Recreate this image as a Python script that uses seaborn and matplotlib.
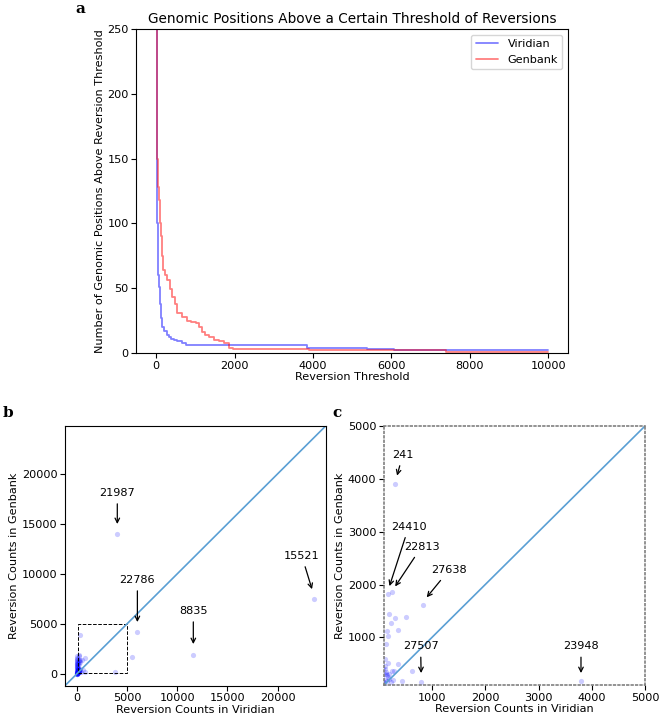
import numpy as np
import pandas as pd
import seaborn as sns
import matplotlib.pyplot as plt
from matplotlib.patches import Rectangle

# panel a: number of positions above each reversion threshold (step curves)
viridian_thresh = [0, 10, 20, 35, 50, 75, 100, 130, 160, 200, 280, 330, 380, 460, 540, 650, 760,
                   3850, 5380, 6060, 10000]
viridian_count = [1000, 150, 120, 100, 60, 51, 38, 27, 20, 17, 14, 12, 11, 10, 9, 8, 6,
                  4, 3, 2, 2]

genbank_thresh = [0, 10, 20, 40, 60, 80, 100, 120, 150, 180, 220, 280, 350, 410, 470, 540, 650,
                  790, 900, 1020, 1100, 1170, 1250, 1350, 1480, 1600, 1730, 1860, 1950, 3900,
                  7400, 10000]
genbank_count = [1200, 250, 150, 140, 128, 118, 100, 90, 75, 64, 60, 56, 49, 43, 38, 31, 28,
                 25, 24, 23, 20, 16, 14, 12, 10, 9, 8, 4, 3, 2,
                 1, 1]

# panels b/c: reversion counts per genomic position
pos_viridian = [4030, 6030, 11600, 23600, 312, 167, 248, 835, 3797, 797, 5457,
                186, 236, 305, 521, 356, 161, 174, 134, 167, 356, 248, 280, 627, 445,
                110, 115, 120, 130, 140, 160, 180, 200, 120, 105, 150, 230, 260, 190,
                10, 20, 30, 40, 50, 60, 70, 80, 90, 15, 25, 35, 45, 55, 65, 75, 85, 95,
                5, 12, 22, 33, 44, 8, 18, 28, 38, 48, 3, 6, 9, 2, 4, 1, 0, 0, 0]
pos_genbank = [14000, 4170, 1930, 7470, 3906, 1824, 1862, 1610, 176, 164, 1723,
               1434, 1277, 1372, 1383, 1138, 1119, 1025, 868, 509, 497, 364, 364, 364, 176,
               600, 450, 400, 350, 300, 280, 250, 220, 200, 150, 180, 150, 200, 300,
               1800, 1500, 1200, 900, 700, 1100, 500, 400, 300, 1300, 1000, 800, 600, 250,
               200, 150, 120, 100, 1600, 1400, 950, 650, 450, 350, 250, 180, 130, 90,
               60, 40, 30, 20, 10, 5, 0, 50, 80]

labels_b = ["21987", "22786", "8835", "15521"]
labels_c = ["241", "24410", "22813", "27638", "27507", "23948"]

df_a = pd.concat([
    pd.DataFrame({"threshold": viridian_thresh, "count": viridian_count, "source": "Viridian"}),
    pd.DataFrame({"threshold": genbank_thresh, "count": genbank_count, "source": "Genbank"}),
])
df_pos = pd.DataFrame({"viridian": pos_viridian, "genbank": pos_genbank})

sns.set_theme(style="ticks", rc={"axes.edgecolor": "black", "xtick.color": "black",
                                 "ytick.color": "black", "axes.labelcolor": "black",
                                 "text.color": "black", "axes.linewidth": 0.8,
                                 "xtick.major.width": 0.8, "ytick.major.width": 0.8,
                                 "xtick.major.size": 3.5, "ytick.major.size": 3.5})
plt.rcParams["font.family"] = ["DejaVu Sans"]
fs = 8.15

fig = plt.figure(figsize=(6.61, 7.21), dpi=100)
ax_a = fig.add_axes([0.2065, 0.5104, 0.6528, 0.4494])
ax_b = fig.add_axes([0.0983, 0.049, 0.3944, 0.3602])
ax_c = fig.add_axes([0.581, 0.05, 0.3949, 0.3592])

# ---- a
sns.lineplot(data=df_a, x="threshold", y="count", hue="source", estimator=None,
             palette={"Viridian": "blue", "Genbank": "red"}, alpha=0.5, linewidth=1.3,
             drawstyle="steps-post", ax=ax_a)
ax_a.set_ylim(0, 250)
ax_a.set_title("Genomic Positions Above a Certain Threshold of Reversions", fontsize=fs * 1.2, pad=4)
ax_a.set_xlabel("Reversion Threshold", fontsize=fs, labelpad=1)
ax_a.set_ylabel("Number of Genomic Positions Above Reversion Threshold", fontsize=fs, labelpad=2)
ax_a.tick_params(labelsize=fs, pad=2)
ax_a.legend(loc="upper right", fontsize=fs, title=None)

# ---- b
lim_max = max(max(pos_viridian), max(pos_genbank))
lo, hi = -0.05 * lim_max, 1.05 * lim_max
sns.scatterplot(data=df_pos, x="viridian", y="genbank", color="blue", alpha=0.2, s=14,
                linewidth=0, ax=ax_b)
ax_b.axline((0, 0), slope=1, color="#5a9fd4", linewidth=1.2)
ax_b.add_patch(Rectangle((100, 100), 4900, 4900, fill=False, linestyle="--",
                         edgecolor="black", linewidth=0.7))
ax_b.set_xlim(lo, hi)
ax_b.set_ylim(lo, hi)
arrow = dict(arrowstyle="->", color="black", linewidth=0.9)
b_text = [(4030, 17600), (6030, 8900), (11600, 5800), (22400, 11300)]
b_head = [(4030, 14700), (6030, 4900), (11600, 2700), (23500, 8200)]
for lab, xt, xh in zip(labels_b, b_text, b_head):
    ax_b.annotate(lab, xy=xh, xytext=xt, ha="center", va="bottom", fontsize=fs,
                  arrowprops=arrow)
ax_b.set_xlabel("Reversion Counts in Viridian", fontsize=fs, labelpad=1)
ax_b.set_ylabel("Reversion Counts in Genbank", fontsize=fs, labelpad=2)
ax_b.tick_params(labelsize=fs, pad=2)

# ---- c
sns.scatterplot(data=df_pos, x="viridian", y="genbank", color="blue", alpha=0.2, s=14,
                linewidth=0, ax=ax_c)
ax_c.axline((0, 0), slope=1, color="#5a9fd4", linewidth=1.2)
ax_c.set_xlim(100, 5000)
ax_c.set_ylim(100, 5000)
c_text = [(451, 4360), (564, 3000), (805, 2620), (1322, 2180), (786, 740), (3797, 740)]
c_head = [(331, 4010), (186, 1920), (280, 1920), (867, 1717), (797, 272), (3797, 272)]
for lab, xt, xh in zip(labels_c, c_text, c_head):
    ax_c.annotate(lab, xy=xh, xytext=xt, ha="center", va="bottom", fontsize=fs,
                  arrowprops=arrow)
for sp in ax_c.spines.values():
    sp.set_linestyle(":")
    sp.set_edgecolor("gray")
    sp.set_linewidth(1.2)
ax_c.set_xlabel("Reversion Counts in Viridian", fontsize=fs, labelpad=1)
ax_c.set_ylabel("Reversion Counts in Genbank", fontsize=fs, labelpad=2)
ax_c.tick_params(labelsize=fs, pad=2)

for lab, xy in zip(["a", "b", "c"], [(0.121, 0.988), (0.012, 0.427), (0.51, 0.427)]):
    fig.text(xy[0], xy[1], lab, fontsize=11, fontweight="bold", family="DejaVu Serif",
             ha="center", va="center")

fig.savefig("out.png", dpi=100)
